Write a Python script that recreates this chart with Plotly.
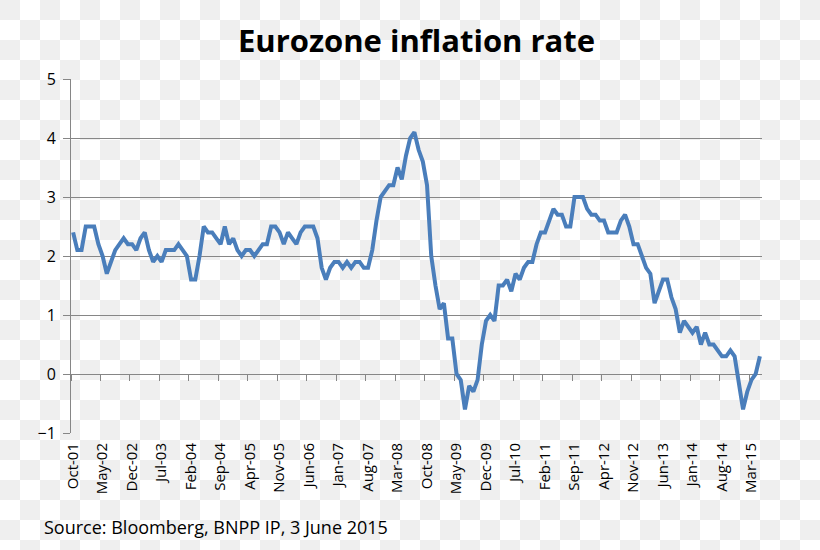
import plotly.graph_objects as go

# ---- data ----
month_names = ["Jan", "Feb", "Mar", "Apr", "May", "Jun",
               "Jul", "Aug", "Sep", "Oct", "Nov", "Dec"]
start_year = 2001
start_month_index = 9  # October
n_months = 164  # Oct-01 .. May-15

months = []
for k in range(n_months):
    m = (start_month_index + k) % 12
    y = start_year + (start_month_index + k) // 12
    months.append(f"{month_names[m]}-{y % 100:02d}")

inflation = [
    2.4, 2.1, 2.1,                                              # 2001 Oct-Dec
    2.5, 2.5, 2.5, 2.2, 2.0, 1.7, 1.9, 2.1, 2.2, 2.3, 2.2, 2.2,  # 2002
    2.1, 2.3, 2.4, 2.1, 1.9, 2.0, 1.9, 2.1, 2.1, 2.1, 2.2, 2.1,  # 2003
    2.0, 1.6, 1.6, 2.0, 2.5, 2.4, 2.4, 2.3, 2.2, 2.5, 2.2, 2.3,  # 2004
    2.1, 2.0, 2.1, 2.1, 2.0, 2.1, 2.2, 2.2, 2.5, 2.5, 2.4, 2.2,  # 2005
    2.4, 2.3, 2.2, 2.4, 2.5, 2.5, 2.5, 2.3, 1.8, 1.6, 1.8, 1.9,  # 2006
    1.9, 1.8, 1.9, 1.8, 1.9, 1.9, 1.8, 1.8, 2.1, 2.6, 3.0, 3.1,  # 2007
    3.2, 3.2, 3.5, 3.3, 3.7, 4.0, 4.1, 3.8, 3.6, 3.2, 2.0, 1.5,  # 2008
    1.1, 1.2, 0.6, 0.6, 0.0, -0.1, -0.6, -0.2, -0.3, -0.1, 0.5, 0.9,  # 2009
    1.0, 0.9, 1.5, 1.5, 1.6, 1.4, 1.7, 1.6, 1.8, 1.9, 1.9, 2.2,  # 2010
    2.4, 2.4, 2.6, 2.8, 2.7, 2.7, 2.5, 2.5, 3.0, 3.0, 3.0, 2.8,  # 2011
    2.7, 2.7, 2.6, 2.6, 2.4, 2.4, 2.4, 2.6, 2.7, 2.5, 2.2, 2.2,  # 2012
    2.0, 1.8, 1.7, 1.2, 1.4, 1.6, 1.6, 1.3, 1.1, 0.7, 0.9, 0.8,  # 2013
    0.7, 0.8, 0.5, 0.7, 0.5, 0.5, 0.4, 0.3, 0.3, 0.4, 0.3, -0.2,  # 2014
    -0.6, -0.3, -0.1, 0.0, 0.3,                                  # 2015 Jan-May
]

tick_labels = ["Oct-01", "May-02", "Dec-02", "Jul-03", "Feb-04", "Sep-04",
               "Apr-05", "Nov-05", "Jun-06", "Jan-07", "Aug-07", "Mar-08",
               "Oct-08", "May-09", "Dec-09", "Jul-10", "Feb-11", "Sep-11",
               "Apr-12", "Nov-12", "Jun-13", "Jan-14", "Aug-14", "Mar-15"]

y_ticks = [-1, 0, 1, 2, 3, 4, 5]

title_text = "Eurozone inflation rate"
source_text = "Source: Bloomberg, BNPP IP, 3 June 2015"

# ---- styling ----
FONT = "'Open Sans', Lato, 'DejaVu Sans', sans-serif"
LINE_BLUE = "#4a7ebb"
GRID = "#868686"
CHECK = "#efefef"
W, H = 820, 550
ML, MR, MT, MB = 71, 58, 79, 117
PW, PH = W - ML - MR, H - MT - MB

tick_pos = [months.index(t) for t in tick_labels]
boundary_ticks = [p - 0.5 for p in tick_pos]

fig = go.Figure()
fig.add_trace(go.Scatter(
    x=list(range(n_months)), y=inflation, mode="lines",
    line=dict(color=LINE_BLUE, width=4),
    hovertext=months, hoverinfo="text+y", showlegend=False,
))
# invisible trace to carry the tick-mark axis at y = 0
fig.add_trace(go.Scatter(
    x=list(range(n_months)), y=inflation, mode="lines", xaxis="x2",
    line=dict(color="rgba(0,0,0,0)", width=0), hoverinfo="skip", showlegend=False,
))

fig.update_layout(
    width=W, height=H,
    margin=dict(l=ML, r=MR, t=MT, b=MB, pad=0),
    paper_bgcolor="rgba(0,0,0,0)",
    plot_bgcolor="rgba(0,0,0,0)",
    font=dict(family=FONT, color="#000000", size=16),
    title=dict(text=f"<b>{title_text}</b>", x=0.5, xref="paper", xanchor="center",
               y=1 - 41 / H, yanchor="middle",
               font=dict(family=FONT, size=31, color="#000000")),
    xaxis=dict(
        range=[-0.5, n_months - 0.5], tickmode="array",
        tickvals=tick_pos, ticktext=tick_labels, tickangle=-90,
        showgrid=False, zeroline=False, showline=False, ticks="",
        ticklabelstandoff=6,
        tickfont=dict(family=FONT, size=15, color="#000000"),
        fixedrange=True,
    ),
    xaxis2=dict(
        range=[-0.5, n_months - 0.5], overlaying="x", anchor="free",
        position=1 / 6, side="bottom", tickmode="array",
        tickvals=boundary_ticks, showticklabels=False,
        ticks="outside", ticklen=6, tickcolor=GRID, tickwidth=1,
        showgrid=False, zeroline=False, showline=False, fixedrange=True,
    ),
    yaxis=dict(
        range=[-1, 5], tickmode="array", tickvals=y_ticks,
        showgrid=True, gridcolor=GRID, gridwidth=1,
        zeroline=True, zerolinecolor=GRID, zerolinewidth=1,
        showline=True, linecolor=GRID, linewidth=1,
        ticks="outside", ticklen=7, tickcolor=GRID,
        ticklabelstandoff=4,
        tickfont=dict(family=FONT, size=16, color="#000000"),
        fixedrange=True,
    ),
    annotations=[dict(
        text=source_text, xref="paper", yref="paper",
        x=(42 - ML) / PW, y=-(527 - (MT + PH)) / PH,
        xanchor="left", yanchor="middle", showarrow=False,
        font=dict(family=FONT, size=18, color="#000000"),
    )],
)

# page: no margin, checkerboard backdrop (20 px squares) as seen in the reference
page_js = (
    "document.body.style.margin='0';"
    "document.body.style.background='conic-gradient(#ffffff 0 25%, " + CHECK +
    " 0 50%, #ffffff 0 75%, " + CHECK + " 0) 0 0 / 40px 40px';"
)
fig.write_html("out.html", post_script=page_js,
               config={"displayModeBar": False})
